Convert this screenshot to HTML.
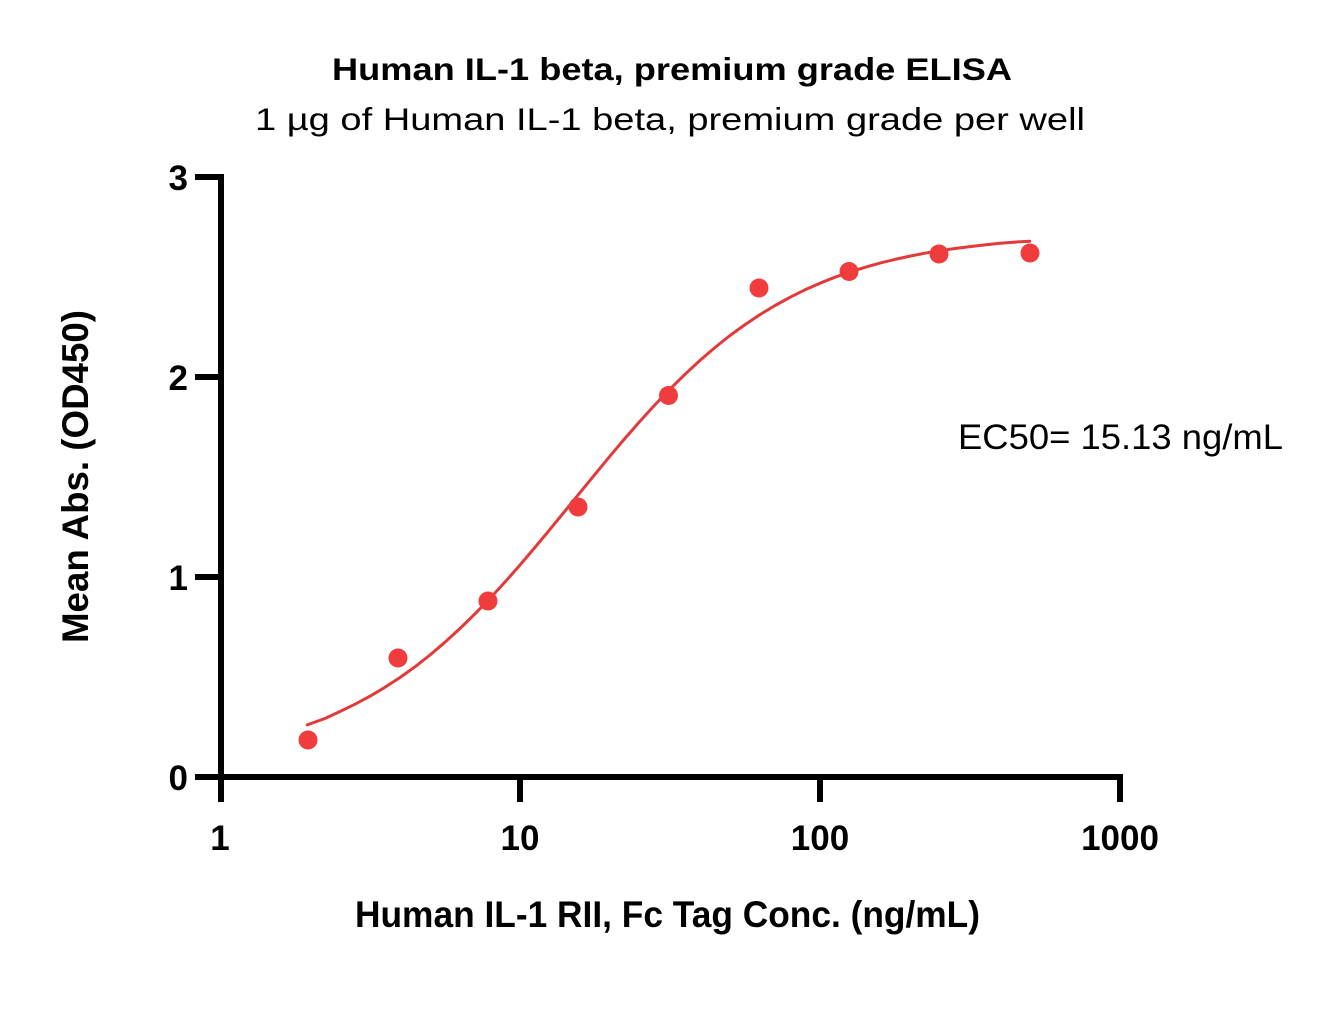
<!DOCTYPE html>
<html>
<head>
<meta charset="utf-8">
<style>
  html, body { margin: 0; padding: 0; background: #ffffff; }
  svg { display: block; }
  text { font-family: "Liberation Sans", Arial, sans-serif; fill: #000; }
</style>
</head>
<body>
<svg width="1327" height="1032" viewBox="0 0 1327 1032" xmlns="http://www.w3.org/2000/svg">
  <rect x="0" y="0" width="1327" height="1032" fill="#ffffff"/>

  <!-- Titles -->
  <text x="332" y="80" font-size="31.5" font-weight="bold" textLength="680" lengthAdjust="spacingAndGlyphs">Human IL-1 beta, premium grade ELISA</text>
  <text x="255" y="130" font-size="31.5" textLength="830" lengthAdjust="spacingAndGlyphs">1 µg of Human IL-1 beta, premium grade per well</text>

  <!-- Axes -->
  <g stroke="#000" stroke-width="6" stroke-linecap="butt" fill="none">
    <line x1="221" y1="174" x2="221" y2="802"/>
    <line x1="195" y1="777" x2="1123" y2="777"/>
    <line x1="195" y1="177" x2="221" y2="177"/>
    <line x1="195" y1="377" x2="221" y2="377"/>
    <line x1="195" y1="577" x2="221" y2="577"/>
    <line x1="520" y1="777" x2="520" y2="802"/>
    <line x1="820" y1="777" x2="820" y2="802"/>
    <line x1="1120" y1="777" x2="1120" y2="802"/>
  </g>

  <!-- Y tick labels -->
  <g font-size="35" font-weight="bold" text-anchor="end">
    <text x="188" y="190">3</text>
    <text x="188" y="390">2</text>
    <text x="188" y="590">1</text>
    <text x="188" y="790">0</text>
  </g>

  <!-- X tick labels -->
  <g font-size="35" font-weight="bold" text-anchor="middle">
    <text x="220" y="850">1</text>
    <text x="520" y="850">10</text>
    <text x="820" y="850">100</text>
    <text x="1120" y="850">1000</text>
  </g>

  <!-- Axis titles -->
  <text x="355" y="927" font-size="37" font-weight="bold" textLength="625" lengthAdjust="spacingAndGlyphs">Human IL-1 RII, Fc Tag Conc. (ng/mL)</text>
  <text transform="translate(88,643) rotate(-90)" x="0" y="0" font-size="37" font-weight="bold" textLength="333" lengthAdjust="spacingAndGlyphs">Mean Abs. (OD450)</text>

  <!-- EC50 annotation -->
  <text x="958" y="449" font-size="35" textLength="325" lengthAdjust="spacingAndGlyphs">EC50= 15.13 ng/mL</text>

  <!-- Fitted curve -->
  <polyline fill="none" stroke="#e23a3a" stroke-width="3" stroke-linejoin="round" stroke-linecap="round"
    points="307.2,724.9 325,718.5 340,711.5 355,704.2 370,696.2 385,687.3 400,677.5 415,666.8 430,655.0 445,642.2 460,628.5 475,613.8 490,598.4 505,582.0 520,565.0 535,547.4 550,529.3 565,511.0 580,492.6 595,474.3 610,456.1 625,438.4 640,421.2 655,404.8 670,389.1 685,374.3 700,360.4 715,347.5 730,335.5 745,324.6 760,314.6 775,305.5 790,297.3 805,289.8 820,283.2 835,277.2 850,272.0 865,267.3 880,263.1 895,259.4 910,256.1 925,253.2 940,250.7 955,248.5 970,246.6 985,244.9 1000,243.3 1015,242.1 1029.7,241.3"/>

  <!-- Data points -->
  <g fill="#f03c3c">
    <circle cx="308" cy="740" r="9.5"/>
    <circle cx="398" cy="658" r="9.5"/>
    <circle cx="488" cy="601" r="9.5"/>
    <circle cx="578" cy="507" r="9.5"/>
    <circle cx="668.5" cy="395.5" r="9.5"/>
    <circle cx="759" cy="288" r="9.5"/>
    <circle cx="849" cy="271.5" r="9.5"/>
    <circle cx="939" cy="254" r="9.5"/>
    <circle cx="1030" cy="253" r="9.5"/>
  </g>
</svg>
</body>
</html>
